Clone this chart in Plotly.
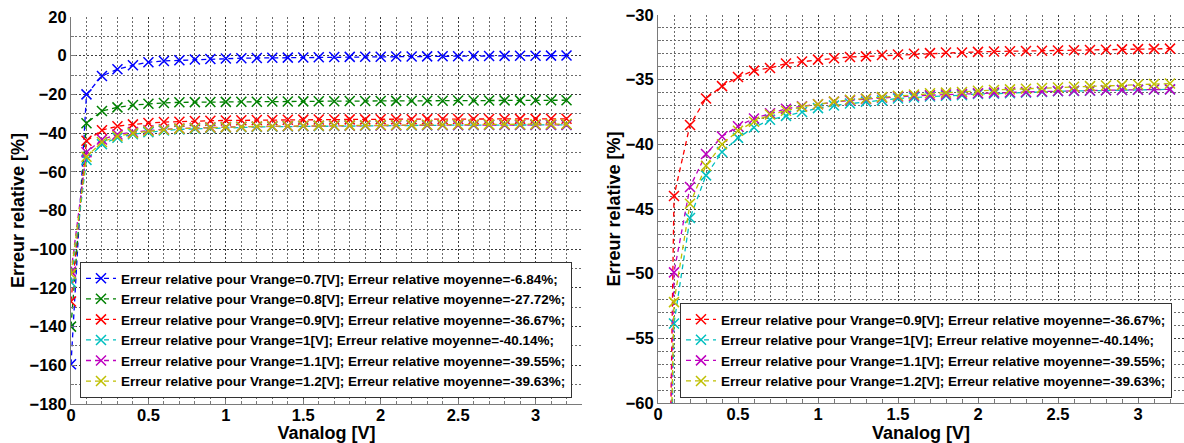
import plotly.graph_objects as go

# ---------------- data ----------------
vanalog = [0.0, 0.1, 0.2, 0.3, 0.4, 0.5, 0.6, 0.7, 0.8, 0.9, 1.0, 1.1, 1.2, 1.3, 1.4, 1.5,
           1.6, 1.7, 1.8, 1.9, 2.0, 2.1, 2.2, 2.3, 2.4, 2.5, 2.6, 2.7, 2.8, 2.9, 3.0, 3.1, 3.2]

err_07 = [-159.5, -20.0, -10.5, -7.0, -4.9, -3.4, -2.7, -2.4, -2.0, -1.7, -1.4, -1.3, -1.2,
          -1.1, -1.0, -0.9, -0.8, -0.7, -0.6, -0.55, -0.5, -0.45, -0.4, -0.35, -0.3, -0.25,
          -0.2, -0.15, -0.1, -0.05, 0.0, 0.05, 0.1]
err_08 = [-140.0, -34.9, -28.6, -26.7, -25.5, -24.8, -24.4, -24.1, -24.0, -23.9, -23.85, -23.8,
          -23.75, -23.7, -23.65, -23.6, -23.55, -23.5, -23.45, -23.4, -23.4, -23.35, -23.3,
          -23.3, -23.25, -23.2, -23.2, -23.15, -23.1, -23.1, -23.05, -23.0, -23.0]
err_09 = [-127.0, -44.0, -38.5, -36.45, -35.5, -34.8, -34.3, -34.1, -33.75, -33.6, -33.45,
          -33.35, -33.25, -33.2, -33.1, -33.05, -33.0, -32.95, -32.9, -32.9, -32.85, -32.82,
          -32.8, -32.78, -32.76, -32.75, -32.72, -32.7, -32.68, -32.66, -32.64, -32.62, -32.6]
err_10 = [-117.1, -53.85, -45.7, -42.4, -40.6, -39.5, -38.7, -38.1, -37.8, -37.5, -37.2, -37.0,
          -36.85, -36.7, -36.6, -36.45, -36.38, -36.3, -36.25, -36.2, -36.1, -36.08, -36.05,
          -36.0, -35.95, -35.9, -35.88, -35.85, -35.82, -35.8, -35.78, -35.76, -35.75]
err_11 = [-111.6, -49.9, -43.3, -40.75, -39.4, -38.6, -38.0, -37.6, -37.25, -37.05, -36.9,
          -36.7, -36.6, -36.5, -36.4, -36.3, -36.25, -36.2, -36.15, -36.1, -36.05, -36.0,
          -35.98, -35.95, -35.92, -35.88, -35.86, -35.84, -35.82, -35.8, -35.78, -35.76, -35.75]
err_12 = [-112.8, -52.2, -44.6, -41.65, -40.0, -38.95, -38.25, -37.7, -37.4, -37.1, -36.9,
          -36.7, -36.55, -36.45, -36.35, -36.25, -36.15, -36.05, -36.0, -35.95, -35.85, -35.8,
          -35.75, -35.7, -35.65, -35.6, -35.55, -35.5, -35.45, -35.42, -35.38, -35.34, -35.3]

names = [
    "Erreur relative pour Vrange=0.7[V]; Erreur relative moyenne=-6.84%;",
    "Erreur relative pour Vrange=0.8[V]; Erreur relative moyenne=-27.72%;",
    "Erreur relative pour Vrange=0.9[V]; Erreur relative moyenne=-36.67%;",
    "Erreur relative pour Vrange=1[V]; Erreur relative moyenne=-40.14%;",
    "Erreur relative pour Vrange=1.1[V]; Erreur relative moyenne=-39.55%;",
    "Erreur relative pour Vrange=1.2[V]; Erreur relative moyenne=-39.63%;",
]
series = [err_07, err_08, err_09, err_10, err_11, err_12]
colors = ["#0000FF", "#008000", "#FF0000", "#00BFBF", "#BF00BF", "#BFBF00"]
right_idx = [2, 3, 4, 5]

x_title = "Vanalog [V]"
y_title = "Erreur relative [%]"

# ---------------- figure ----------------
W, H = 1184, 443
FONT = "Liberation Sans, Arial, sans-serif"

def px_x(p):
    return p / W

def px_y(p):
    return 1 - p / H

fig = go.Figure()

def add(i, xa, ya, leg):
    fig.add_trace(go.Scatter(
        x=vanalog, y=series[i], name=names[i], mode="lines+markers",
        xaxis=xa, yaxis=ya, legend=leg,
        line=dict(color=colors[i], width=1.3, dash="5px,4px"),
        marker=dict(symbol="x-thin", size=10, color=colors[i],
                    line=dict(color=colors[i], width=1.5)),
    ))

for i in range(6):
    add(i, "x", "y", "legend")
for i in right_idx:
    add(i, "x2", "y2", "legend2")

tickfont = dict(family=FONT, size=16.5, color="black", weight="bold")
titlefont = dict(family=FONT, size=18, color="black", weight="bold")

def xaxis(domain, rng, anchor):
    return dict(
        domain=domain, range=rng, anchor=anchor,
        tickmode="linear", tick0=0, dtick=0.5, tickformat="~g",
        showline=True, linecolor="#7a7a7a", linewidth=1, mirror=False,
        ticks="inside", ticklen=5, tickcolor="#7a7a7a",
        showgrid=True, gridcolor="#3a3a3a", griddash="2px,2px", gridwidth=1,
        zeroline=False, tickfont=tickfont, ticklabelstandoff=-4,
        minor=dict(dtick=0.1, tick0=0, showgrid=True, gridcolor="#6a6a6a",
                   griddash="2px,2px", ticks="inside", ticklen=3, tickcolor="#7a7a7a"),
        title=dict(text=x_title, font=titlefont, standoff=3),
        automargin=False, fixedrange=True,
    )

def yaxis(domain, rng, anchor, dtick, mdtick):
    return dict(
        domain=domain, range=rng, anchor=anchor,
        tickmode="linear", tick0=0, dtick=dtick,
        showline=True, linecolor="#7a7a7a", linewidth=1, mirror=False,
        ticks="inside", ticklen=5, tickcolor="#7a7a7a",
        showgrid=True, gridcolor="#3a3a3a", griddash="2px,2px", gridwidth=1,
        zeroline=False, tickfont=tickfont,
        minor=dict(dtick=mdtick, tick0=0, showgrid=True, gridcolor="#6a6a6a",
                   griddash="2px,2px", ticks="inside", ticklen=3, tickcolor="#7a7a7a"),
        title=dict(text=y_title, font=titlefont, standoff=0),
        automargin=False, fixedrange=True,
    )

legend_common = dict(
    font=dict(family=FONT, size=13.5, color="black", weight="bold"),
    bgcolor="white", bordercolor="#333333", borderwidth=1,
    xanchor="left", yanchor="bottom", tracegroupgap=0,
)

fig.update_layout(
    width=W, height=H,
    margin=dict(l=0, r=0, t=0, b=0),
    paper_bgcolor="white", plot_bgcolor="white",
    font=dict(family=FONT, color="black"),
    xaxis=xaxis([px_x(71), px_x(582)], [0, 3.3], "y"),
    yaxis=yaxis([px_y(404), px_y(17)], [-180, 20], "x", 20, 10),
    xaxis2=xaxis([px_x(658), 1.0], [0, 3.2875], "y2"),
    yaxis2=yaxis([px_y(403), px_y(15)], [-60, -30], "x2", 5, 1),
    legend=dict(x=px_x(80), y=px_y(398), **legend_common),
    legend2=dict(x=px_x(680), y=px_y(398), **legend_common),
    showlegend=True,
)

fig.write_html(
    "out.html",
    config={"displayModeBar": False},
    post_script="document.body.style.margin='0px';document.body.style.overflow='hidden';",
)
